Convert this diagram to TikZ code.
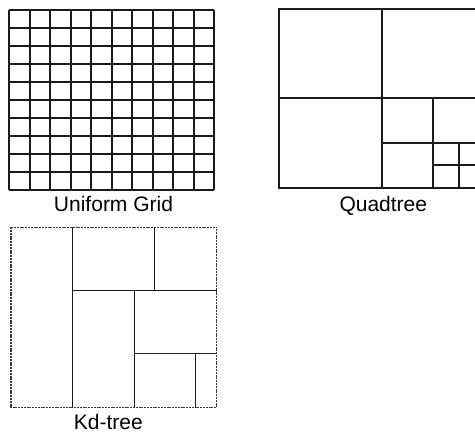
\documentclass[tikz,border=0pt]{standalone}
\usepackage{fontspec}
\setmainfont{Liberation Sans}
\definecolor{cline}{HTML}{1A1A1A}
\definecolor{cdot}{HTML}{3A3A3A}
\tikzset{
  every picture/.style={x=1pt, y=-1pt, line width=1.5pt},
  cut/.style={draw=cline, line width=1.7pt},
  thincut/.style={draw=cline, line width=1.3pt},
  frame/.style={draw=cdot, line width=1.3pt, dash pattern=on 2pt off 0.8pt},
  caption/.style={font=\fontsize{21}{25}\selectfont, anchor=base, inner sep=0pt},
}
\begin{document}
\begin{tikzpicture}
  \useasboundingbox (0,0) rectangle (475,433);
  % uniform grid, 10 x 10 cells
  \foreach \i in {0,...,10}{
    \draw[cut] (9.3+\i*20.5,10.3) -- ++(0,179.7);
    \draw[cut] (9.3,10.3+\i*17.97) -- ++(205,0);}
  \node[caption] (gridlabel) at (113.5,211.7) {Uniform Grid};
  % quadtree, cut by the right edge
  \begin{scope}
    \clip (0,0) rectangle (475,433);
    \draw[cut] (279.3,8.7) rectangle (484.7,187.7);
    \draw[cut] (382,8.7) -- (382,187.7);
    \draw[cut] (279.3,98.2) -- (484.7,98.2);
    \draw[cut] (433.3,98.2) -- (433.3,187.7);
    \draw[cut] (382,143) -- (484.7,143);
    \draw[cut] (458.7,143) -- (458.7,187.7);
    \draw[cut] (433.3,165.3) -- (484.7,165.3);
  \end{scope}
  \node[caption] (quadlabel) at (383.3,211.7) {Quadtree};
  % kd-tree
  \draw[frame] (11,227.3) rectangle (216.7,407.7);
  \draw[thincut] (72.7,227.3) -- (72.7,407.7);
  \draw[thincut] (72.7,290.7) -- (216.7,290.7);
  \draw[thincut] (154.7,227.3) -- (154.7,290.7);
  \draw[thincut] (134.3,290.7) -- (134.3,407.7);
  \draw[thincut] (134.3,353.3) -- (216.7,353.3);
  \draw[thincut] (195.7,353.3) -- (195.7,407.7);
  \node[caption] (kdlabel) at (108.3,429.5) {Kd-tree};
\end{tikzpicture}
\end{document}
